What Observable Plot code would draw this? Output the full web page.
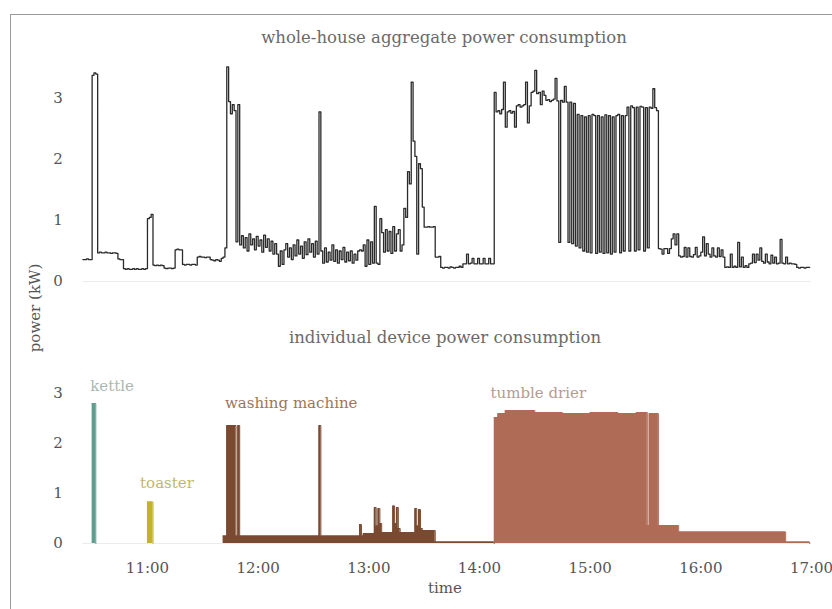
<!DOCTYPE html>
<html><head><meta charset="utf-8">
<script src="https://cdn.jsdelivr.net/npm/d3@7"></script>
<script src="https://cdn.jsdelivr.net/npm/@observablehq/plot@0.6"></script>
<style>
html,body{margin:0;padding:0;background:#fff;}
#wrap{position:relative;width:832px;height:609px;overflow:hidden;font-family:"DejaVu Serif",serif;}
#frame{position:absolute;left:10px;top:14px;width:840px;height:610px;border:1px solid #9a9a9a;box-sizing:border-box;}
.t{position:absolute;white-space:nowrap;color:#6a6a6a;font-size:15px;line-height:1;transform:translate(-50%,-50%);}
.ttl{font-size:16.5px;}
#topChart{position:absolute;left:0;top:60px;}
#botChart{position:absolute;left:0;top:360px;}
</style></head>
<body><div id="wrap">
<div id="frame"></div>
<div class="t ttl" style="left:444px;top:38px">whole-house aggregate power consumption</div>
<div class="t ttl" style="left:445px;top:338px">individual device power consumption</div>
<div class="t" style="left:35px;top:308px;transform:translate(-50%,-50%) rotate(-90deg);color:#555">power (kW)</div>
<div class="t" style="left:445px;top:588px;color:#555">time</div>
<div id="topChart"></div><div id="botChart"></div>
</div>
<script>
// ---------- data ----------
const startTime = "10:25";          // first sample of the aggregate (1-minute samples)
const axisStart = "10:25", axisEnd = "17:00";
const xTickLabels = ["11:00","12:00","13:00","14:00","15:00","16:00","17:00"];
const yTicks = [0, 1, 2, 3];

// whole-house aggregate, kW, one value per minute
const agg1025 = [0.36,0.36,0.37,0.36,0.36, 3.38,3.42,3.40,
  0.47,0.48,0.47,0.47,0.48,0.47,0.47,0.46,0.47,0.47,0.46, 0.37,0.36,0.36,
  0.21,0.20,0.21,0.20,0.20,0.21,0.20,0.21,0.20,0.20,0.21,0.20,0.21];
const agg1100 = [1.03,1.05,1.10, 0.27,0.26,0.27,0.26,0.27,0.26, 0.22,0.21,0.22,0.22,0.21,0.22,
  0.52,0.53,0.52,0.52, 0.28,0.27,0.28,0.28,0.27,0.28,0.28,0.27, 0.40,0.41,0.40,0.40,0.39,0.40,0.40,
  0.36,0.35,0.34,0.36,0.35,0.33,0.38, 0.40,0.55,3.52,2.95,2.75,2.90,2.80,0.65,2.90,0.60,
  0.75,0.55,0.72,0.50,0.78,0.60,0.70,0.52,0.74];
const agg1200 = [0.58,0.68,0.48,0.76,0.56,0.70,0.50,0.66,0.45,0.62, 0.45,0.25,0.50,0.28,0.52,
  0.62,0.40,0.55,0.36,0.60,0.42,0.68,0.45,0.58,0.38,0.65,0.44,0.70,0.48,0.62,0.40,0.66,0.45, 2.78,
  0.50,0.30,0.55,0.32,0.48,0.35,0.60,0.33,0.52,0.30,0.50,0.36,0.56,0.32,0.48,0.34,0.50,0.30,0.45,0.35,
  0.50,0.52,0.50, 0.60,0.25,0.68];
const agg1300 = [0.28,0.65,0.30, 1.23, 0.30,0.28, 1.03, 0.80,0.48,0.85,0.50,0.82,0.46,0.90,0.50,0.78,
  0.85,0.50, 0.60,1.20,1.05,1.80,1.60,3.27,2.30,2.05,0.45,1.93,1.85,1.22, 0.89,0.89,0.90,0.89,0.89,0.90,
  0.40,0.40,0.41, 0.23,0.22,0.23,0.23,0.22,0.24,0.23,0.22,0.23,0.23,0.25,0.23,
  0.29,0.29,0.45,0.29,0.30,0.38,0.29,0.29,0.38];
const agg1400 = [0.29,0.29,0.38,0.29,0.29,0.38,0.29,0.29,
  3.10,2.78,2.80,2.75,2.82,3.27,2.53,2.78,2.80,2.76,2.79,2.53, 2.88,2.90,2.86,2.88,2.90,3.27,2.60,2.88,
  3.10,3.12,3.46,3.08,3.10,2.90,3.12,3.05, 2.97,2.98,2.95,2.97,2.99,3.33,2.96, 0.64,
  2.97,2.94,3.20,2.94,0.64,2.94,0.62,2.92,0.58,2.74, 0.55,2.72,0.50,2.70,0.48,2.72];
const agg1500 = [0.47,2.74,2.72,0.46,2.72,0.48,2.70,0.46,2.73,0.47,2.72,0.45,2.70,0.48,2.72,2.74,0.47,2.72,0.50,2.72,
  2.86,0.50,2.88,2.85,0.50,2.86,0.52,2.87,2.86,0.50, 2.85,0.55,2.86,2.84,3.16,2.85,2.80,
  0.54,0.53,0.45,0.54,0.54,0.46,0.54, 0.70,0.78,0.60,0.78,
  0.42,0.40,0.41,0.56,0.40,0.55,0.41,0.40,0.44,0.56,0.40,0.42];
const agg1600 = [0.48,0.73,0.42,0.62,0.45,0.40,0.55,0.42,0.40,0.55,0.41,0.52,0.40,
  0.23,0.24,0.23,0.45,0.23,0.25,0.23,0.64,0.24,0.40,0.23,0.26,0.23,
  0.29,0.30,0.45,0.31,0.45,0.35,0.55,0.33,0.30,0.45,0.32,0.29,0.43,0.30,0.40,0.29,0.30,0.69,0.30,0.29,0.40,0.29,0.30,0.29,0.29,0.28,
  0.23,0.22,0.23,0.23,0.22,0.23,0.23];

// individual devices: change points (time, kW), held until the next point
const kettleTime = ["10:30","10:32"];
const kettleKW   = [2.8, 0];
const toasterTime = ["11:00","11:03"];
const toasterKW   = [0.83, 0];
const washingTime = ["11:41","11:43","11:48","11:49","11:50","12:33","12:34","12:55","12:56","12:57",
  "13:03","13:04","13:05","13:06","13:07","13:13","13:14","13:15","13:16","13:17",
  "13:25","13:26","13:27","13:28","13:29","13:36","14:08"];
const washingKW = [0.15,2.36,0.15,2.36,0.15,2.36,0.15,0.38,0.15,0.20,
  0.72,0.35,0.70,0.40,0.22,0.75,0.40,0.72,0.30,0.22,
  0.70,0.35,0.68,0.30,0.26,0.03,0];
const drierTime = ["14:08","14:10","14:14","14:30","14:45","15:00","15:15","15:25","15:31","15:32","15:37","15:48","16:46","16:59"];
const drierKW   = [2.52,2.60,2.66,2.62,2.60,2.62,2.60,2.62,0.36,2.60,0.36,0.23,0.03,0];

const deviceNames  = ["kettle","toaster","washing machine","tumble drier"];
const deviceColors = ["#5f9e8f","#c4b12c","#7a4a30","#b06b57"];
const labelColors  = ["#a9b8b3","#bdb86c","#9b7658","#b59b91"];
const labelTime    = ["10:29","10:56","11:42","14:06"];
const labelKW      = [3.14, 1.2, 2.8, 3.0];

// ---------- build ----------
const parse = d3.timeParse("%H:%M");
const t0 = parse(startTime);
const aggregateKW = [].concat(agg1025, agg1100, agg1200, agg1300, agg1400, agg1500, agg1600);
const aggData = aggregateKW.map((v, i) => ({t: d3.timeMinute.offset(t0, i), kw: v}));
aggData.push({t: d3.timeMinute.offset(t0, aggregateKW.length), kw: aggregateKW[aggregateKW.length - 1]});

const toRows = (times, vals) => times.map((s, i) => ({t: parse(s), kw: vals[i]}));
const devices = [toRows(kettleTime, kettleKW), toRows(toasterTime, toasterKW),
                 toRows(washingTime, washingKW), toRows(drierTime, drierKW)];

const xDomain = [parse(axisStart), parse(axisEnd)];
const chartStyle = {fontFamily: "DejaVu Serif", fontSize: "15px", color: "#555", background: "transparent", overflow: "visible"};

const aggregatePlot = Plot.plot({
  width: 832, height: 240, marginLeft: 82.4, marginRight: 21, marginTop: 7.5, marginBottom: 19,
  style: chartStyle,
  x: {type: "time", domain: xDomain, axis: null},
  y: {domain: [0, 3.5], ticks: yTicks, tickSize: 0, tickPadding: 20, label: null, tickFormat: d => String(d)},
  marks: [
    Plot.ruleY([0], {stroke: "#ececec"}),
    Plot.lineY(aggData, {x: "t", y: "kw", curve: "step-after", stroke: "#2a2a2a", strokeWidth: 1.3})
  ]
});
document.getElementById("topChart").appendChild(aggregatePlot);

const devMarks = [];
devices.forEach((rows, i) => {
  devMarks.push(Plot.areaY(rows, {x: "t", y: "kw", curve: "step-after", fill: deviceColors[i]}));
  devMarks.push(Plot.lineY(rows, {x: "t", y: "kw", curve: "step-after", stroke: deviceColors[i], strokeWidth: 1}));
});
deviceNames.forEach((name, i) => {
  devMarks.push(Plot.text([{t: parse(labelTime[i]), kw: labelKW[i], name}],
    {x: "t", y: "kw", text: "name", fill: labelColors[i], textAnchor: "start", fontSize: 15}));
});

const devicePlot = Plot.plot({
  width: 832, height: 249, marginLeft: 82.4, marginRight: 21, marginTop: 8, marginBottom: 66,
  style: chartStyle,
  x: {type: "time", domain: xDomain, ticks: xTickLabels.map(parse), tickFormat: d3.timeFormat("%H:%M"),
      tickSize: 0, tickPadding: 19, label: null},
  y: {domain: [0, 3.5], ticks: yTicks, tickSize: 0, tickPadding: 20, label: null, tickFormat: d => String(d)},
  marks: [Plot.ruleY([0], {stroke: "#ececec"}), ...devMarks]
});
document.getElementById("botChart").appendChild(devicePlot);
</script>
</body></html>
